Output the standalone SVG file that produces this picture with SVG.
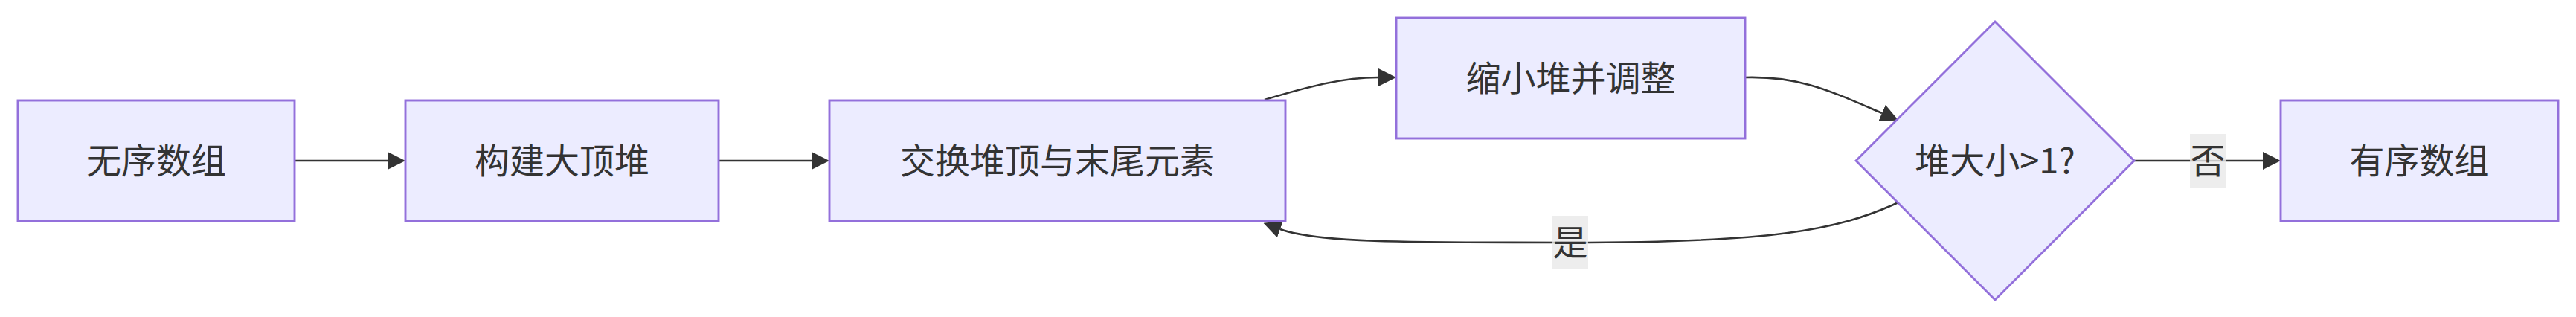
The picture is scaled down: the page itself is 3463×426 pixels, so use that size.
<svg xmlns="http://www.w3.org/2000/svg" width="3463" height="426" viewBox="0 0 3463 426">
<style>
.node rect, .node polygon { fill: #ECECFF; stroke: #9370DB; stroke-width: 2.9; }
.node text, .lbl text { font-family: "Noto Sans CJK SC", "Noto Sans", sans-serif; font-size: 47px; fill: #333333; text-anchor: middle; dominant-baseline: central; }
.edge { fill: none; stroke: #333333; stroke-width: 2.6; marker-end: url(#arrow); }
.lbl rect { fill: #e8e8e8; fill-opacity: 0.8; }
</style>
<defs>
<marker id="arrow" viewBox="0 0 10 10" refX="0" refY="5" markerWidth="24" markerHeight="24" markerUnits="userSpaceOnUse" orient="auto">
<path d="M0,0 L10,5 L0,10 z" fill="#333333"/>
</marker>
</defs>
<rect width="3463" height="426" fill="#ffffff"/>
<g id="connectors">
<path class="edge" d="M396,216 L521,216"/>
<path class="edge" d="M966,216 L1091,216"/>
<path class="edge" d="M1700,134 C1760,116 1805,104 1853,104"/>
<path class="edge" d="M2346,104 C2420,102 2460,122 2530,152"/>
<path class="edge" d="M2552,272 C2470,310 2380,326 2111,326 C1880,326 1770,326 1721,308"/>
<path class="edge" d="M2869,216 L3042,216"/>
<g class="lbl" id="label-yes">
<rect x="2087" y="290" width="48" height="72"/>
<text x="2111" y="322">是</text>
</g>
<g class="lbl" id="label-no">
<rect x="2944" y="180" width="48" height="72"/>
<text x="2968" y="212">否</text>
</g>
</g>
<g class="node" id="A">
<rect x="24" y="135" width="372" height="162"/>
<text x="210" y="212">无序数组</text>
</g>
<g class="node" id="B">
<rect x="545" y="135" width="421" height="162"/>
<text x="755.5" y="212">构建大顶堆</text>
</g>
<g class="node" id="C">
<rect x="1115" y="135" width="613" height="162"/>
<text x="1421.5" y="212">交换堆顶与末尾元素</text>
</g>
<g class="node" id="D">
<rect x="1877" y="24" width="469" height="162"/>
<text x="2111.5" y="101">缩小堆并调整</text>
</g>
<g class="node" id="E">
<polygon points="2682,29 2869,216 2682,403 2495,216"/>
<text x="2682" y="212">堆大小&gt;1?</text>
</g>
<g class="node" id="F">
<rect x="3066" y="135" width="373" height="162"/>
<text x="3252.5" y="212">有序数组</text>
</g>
</svg>
